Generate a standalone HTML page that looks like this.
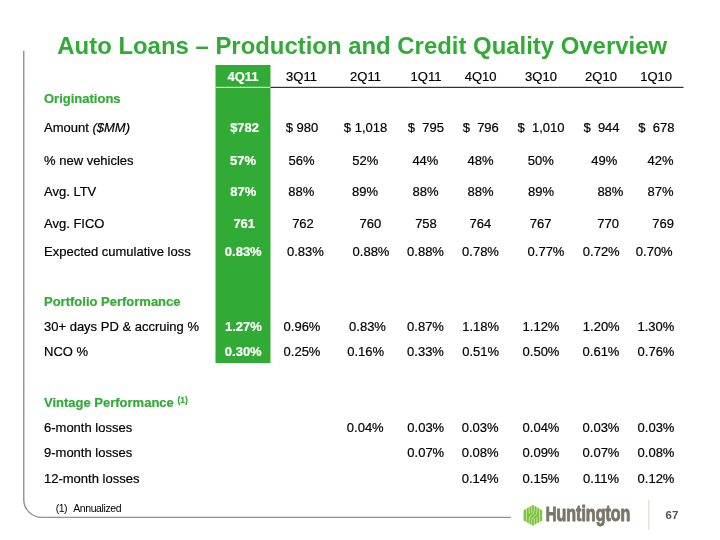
<!DOCTYPE html>
<html><head><meta charset="utf-8"><title>Auto Loans</title>
<style>
html,body{margin:0;padding:0;background:#fff;}
body{width:720px;height:540px;position:relative;overflow:hidden;font-family:"Liberation Sans",Arial,sans-serif;color:#000;}
.t{position:absolute;white-space:pre;line-height:16px;height:16px;font-size:13px;-webkit-text-stroke:0.2px currentColor;}
.c{text-align:center;width:80px;margin-left:-40px;}
.h{color:#31ab35;font-weight:bold;}
.w{color:#fff;font-weight:bold;}
sup{font-size:8.5px;vertical-align:baseline;position:relative;top:-4.5px;}
#title{position:absolute;left:2.2px;width:720px;top:31px;text-align:center;font-size:23.92px;line-height:30px;font-weight:bold;color:#31ab35;white-space:pre;}
#fn{position:absolute;left:55.7px;top:501.6px;font-size:10.5px;line-height:12px;letter-spacing:-0.5px;}
#fn2{position:absolute;left:73.2px;top:501.6px;font-size:10.5px;line-height:12px;letter-spacing:-0.4px;}
#bg{position:absolute;left:0;top:0;}
#pg{position:absolute;left:665.5px;top:508px;font-size:11.5px;line-height:14px;color:#555;font-weight:bold;}
</style></head><body>

<svg id="bg" width="720" height="540" viewBox="0 0 720 540">
<path d="M23.75 50.8V499.4A18 18 0 0 0 41.75 517.4H511" fill="none" stroke="#92928b" stroke-width="1.4"/>
<rect x="215.5" y="65" width="55" height="298" fill="#31ab35"/>
<rect x="215.5" y="86.8" width="55" height="1.1" fill="#d4f2d4"/>
<rect x="270.5" y="86.8" width="413" height="1.1" fill="#1c1c1c"/>
<rect x="648.2" y="500" width="1.1" height="30" fill="#dadccf"/>
<polygon points="533,505 542.2,510.2 542.2,520.6 533,525.8 523.6,520.6 523.6,510.2" fill="#7cc142"/>
<g stroke="#dff5c4" stroke-width="0.7" fill="none" stroke-linecap="round">
<path d="M526.4 508.6V522.2"/><path d="M539.6 508.6V522.2"/>
<path d="M529.2 507.2V513.5"/><path d="M531.7 506V512.3"/>
<path d="M534.3 506V510.5C534.3 514.5 529.2 515 529.2 519V523.6"/>
<path d="M536.9 507.2V512C536.9 516 531.7 516.5 531.7 520.5V525"/>
<path d="M534.3 525V518.7"/><path d="M536.9 523.6V517.3"/>
</g>
<text transform="translate(545.8,521.3) scale(0.728,1)" font-family="Liberation Sans, Arial, sans-serif" font-weight="bold" font-size="20.4" fill="#79756a" stroke="#79756a" stroke-width="1.0" stroke-linejoin="round">H<tspan font-size="22">untington</tspan></text>
</svg>
<div id="title">Auto Loans – Production and Credit Quality Overview</div>
<div class="t c w" style="left:243px;top:69px">4Q11</div>
<div class="t c" style="left:301.5px;top:69px">3Q11</div>
<div class="t c" style="left:365.5px;top:69px">2Q11</div>
<div class="t c" style="left:426px;top:69px">1Q11</div>
<div class="t c" style="left:480.6px;top:69px">4Q10</div>
<div class="t c" style="left:541px;top:69px">3Q10</div>
<div class="t c" style="left:601px;top:69px">2Q10</div>
<div class="t c" style="left:656.1px;top:69px">1Q10</div>
<div class="t h" style="left:44px;top:91px">Originations</div>
<div class="t" style="left:44px;top:120px">Amount <i>($MM)</i></div>
<div class="t" style="left:44px;top:153px">% new vehicles</div>
<div class="t" style="left:44px;top:184px">Avg. LTV</div>
<div class="t" style="left:44px;top:216px">Avg. FICO</div>
<div class="t" style="left:44px;top:244px">Expected cumulative loss</div>
<div class="t h" style="left:44px;top:294px">Portfolio Performance</div>
<div class="t" style="left:44px;top:319px">30+ days PD &amp; accruing %</div>
<div class="t" style="left:44px;top:344px">NCO %</div>
<div class="t h" style="left:44px;top:395px">Vintage Performance <sup>(1)</sup></div>
<div class="t" style="left:44px;top:420px">6-month losses</div>
<div class="t" style="left:44px;top:445px">9-month losses</div>
<div class="t" style="left:44px;top:471px">12-month losses</div>
<div class="t c w" style="left:244.6px;top:120px">$782</div>
<div class="t c" style="left:302px;top:120px">$ 980</div>
<div class="t c" style="left:365.5px;top:120px">$ 1,018</div>
<div class="t c" style="left:425.9px;top:120px">$  795</div>
<div class="t c" style="left:480.75px;top:120px">$  796</div>
<div class="t c" style="left:541px;top:120px">$  1,010</div>
<div class="t c" style="left:601.5px;top:120px">$  944</div>
<div class="t c" style="left:656.4px;top:120px">$  678</div>
<div class="t c w" style="left:243px;top:153px">57%</div>
<div class="t c" style="left:301.6px;top:153px">56%</div>
<div class="t c" style="left:365.25px;top:153px">52%</div>
<div class="t c" style="left:425.4px;top:153px">44%</div>
<div class="t c" style="left:480.5px;top:153px">48%</div>
<div class="t c" style="left:540.8px;top:153px">50%</div>
<div class="t c" style="left:604.25px;top:153px">49%</div>
<div class="t c" style="left:660.5px;top:153px">42%</div>
<div class="t c w" style="left:243.25px;top:184px">87%</div>
<div class="t c" style="left:301.25px;top:184px">88%</div>
<div class="t c" style="left:365px;top:184px">89%</div>
<div class="t c" style="left:425.5px;top:184px">88%</div>
<div class="t c" style="left:480.5px;top:184px">88%</div>
<div class="t c" style="left:541px;top:184px">89%</div>
<div class="t c" style="left:610.4px;top:184px">88%</div>
<div class="t c" style="left:660.5px;top:184px">87%</div>
<div class="t c w" style="left:244.25px;top:216px">761</div>
<div class="t c" style="left:303px;top:216px">762</div>
<div class="t c" style="left:370.4px;top:216px">760</div>
<div class="t c" style="left:426px;top:216px">758</div>
<div class="t c" style="left:480.4px;top:216px">764</div>
<div class="t c" style="left:540.6px;top:216px">767</div>
<div class="t c" style="left:608.1px;top:216px">770</div>
<div class="t c" style="left:663.1px;top:216px">769</div>
<div class="t c w" style="left:243.25px;top:244px">0.83%</div>
<div class="t c" style="left:305.4px;top:244px">0.83%</div>
<div class="t c" style="left:371px;top:244px">0.88%</div>
<div class="t c" style="left:425.5px;top:244px">0.88%</div>
<div class="t c" style="left:480.5px;top:244px">0.78%</div>
<div class="t c" style="left:546px;top:244px">0.77%</div>
<div class="t c" style="left:601.25px;top:244px">0.72%</div>
<div class="t c" style="left:654.25px;top:244px">0.70%</div>
<div class="t c w" style="left:243.4px;top:319px">1.27%</div>
<div class="t c" style="left:302px;top:319px">0.96%</div>
<div class="t c" style="left:367.5px;top:319px">0.83%</div>
<div class="t c" style="left:425.5px;top:319px">0.87%</div>
<div class="t c" style="left:480.6px;top:319px">1.18%</div>
<div class="t c" style="left:541px;top:319px">1.12%</div>
<div class="t c" style="left:601.25px;top:319px">1.20%</div>
<div class="t c" style="left:655.9px;top:319px">1.30%</div>
<div class="t c w" style="left:243.25px;top:344px">0.30%</div>
<div class="t c" style="left:302px;top:344px">0.25%</div>
<div class="t c" style="left:365.6px;top:344px">0.16%</div>
<div class="t c" style="left:425.5px;top:344px">0.33%</div>
<div class="t c" style="left:480.6px;top:344px">0.51%</div>
<div class="t c" style="left:541px;top:344px">0.50%</div>
<div class="t c" style="left:601px;top:344px">0.61%</div>
<div class="t c" style="left:656px;top:344px">0.76%</div>
<div class="t c" style="left:365.25px;top:420px">0.04%</div>
<div class="t c" style="left:425.75px;top:420px">0.03%</div>
<div class="t c" style="left:480.1px;top:420px">0.03%</div>
<div class="t c" style="left:541px;top:420px">0.04%</div>
<div class="t c" style="left:601px;top:420px">0.03%</div>
<div class="t c" style="left:656px;top:420px">0.03%</div>
<div class="t c" style="left:425.75px;top:445px">0.07%</div>
<div class="t c" style="left:480.1px;top:445px">0.08%</div>
<div class="t c" style="left:541px;top:445px">0.09%</div>
<div class="t c" style="left:601px;top:445px">0.07%</div>
<div class="t c" style="left:656px;top:445px">0.08%</div>
<div class="t c" style="left:480.1px;top:471px">0.14%</div>
<div class="t c" style="left:541px;top:471px">0.15%</div>
<div class="t c" style="left:601px;top:471px">0.11%</div>
<div class="t c" style="left:656px;top:471px">0.12%</div>
<div id="fn">(1)</div><div id="fn2">Annualized</div>
<div id="pg">67</div>
</body></html>
